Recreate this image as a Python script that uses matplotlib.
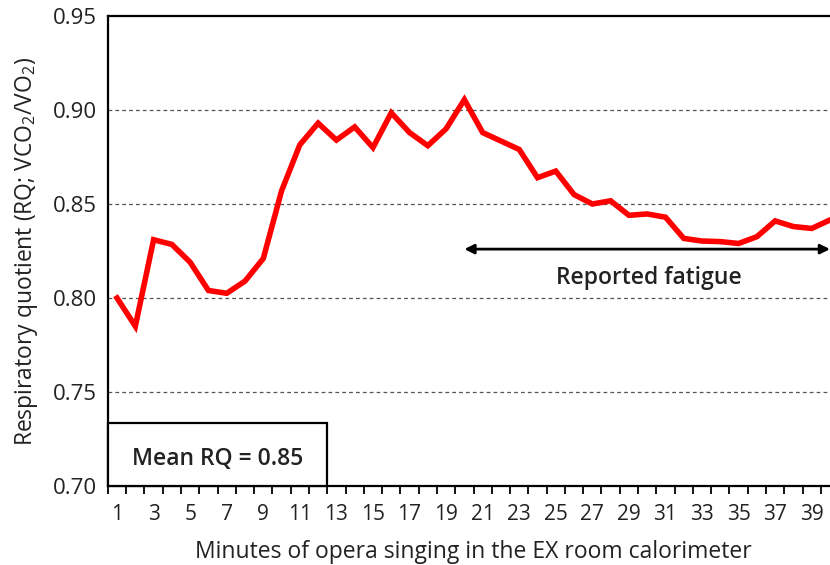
import matplotlib
matplotlib.use('Agg')
import matplotlib.pyplot as plt
from matplotlib.patches import Rectangle

plt.rcParams['font.family'] = ['Open Sans', 'DejaVu Sans']
plt.rcParams['mathtext.default'] = 'regular'

# RQ per minute of singing
minutes = list(range(1, 41))
rq = [0.800, 0.785, 0.831, 0.8285, 0.819, 0.804, 0.8025, 0.809, 0.821, 0.857,
      0.8815, 0.893, 0.884, 0.891, 0.880, 0.8985, 0.888, 0.881, 0.890, 0.9055,
      0.888, 0.8835, 0.879, 0.864, 0.8675, 0.855, 0.850, 0.8517, 0.844, 0.8447,
      0.843, 0.8317, 0.8303, 0.830, 0.829, 0.8326, 0.841, 0.838, 0.837, 0.8415]
y_ticks = [0.70, 0.75, 0.80, 0.85, 0.90, 0.95]
x_ticklabels = [str(m) for m in range(1, 41, 2)]
fatigue_start, fatigue_end = 20, 40
mean_rq = 0.85

fig = plt.figure(figsize=(8.3, 5.65), dpi=100)
ax = fig.add_axes([0.130, 0.1398, 0.881, 0.8319])

ax.plot(minutes, rq, color='#ff0000', lw=4.0, solid_joinstyle='miter', zorder=3)

ax.set_ylim(0.70, 0.95)
ax.set_xlim(0.5, 40.5)
ax.set_yticks(y_ticks)
ax.set_yticklabels(['%.2f' % v for v in y_ticks])
for v in y_ticks[1:-1]:
    ax.axhline(v, color='#555555', lw=0.9, ls=(0, (3, 2.5)), zorder=1)

# category style x axis: labels on odd minutes, ticks between categories
ax.set_xticks(range(1, 41, 2))
ax.set_xticklabels(x_ticklabels)
ax.set_xticks([m + 0.5 for m in range(0, 41)], minor=True)
ax.tick_params(axis='x', which='major', length=0, labelsize=15, pad=13, colors='#222222')
ax.tick_params(axis='x', which='minor', length=6, width=1.3, direction='out', color='black')
ax.tick_params(axis='y', length=0, labelsize=16, pad=8, colors='#222222')

for s in ['left', 'top', 'bottom']:
    ax.spines[s].set_linewidth(1.6)
    ax.spines[s].set_color('black')
ax.spines['right'].set_visible(False)

ax.set_xlabel('Minutes of opera singing in the EX room calorimeter', fontsize=16.5,
              color='#222222', labelpad=11)
ax.set_ylabel('Respiratory quotient (RQ; VCO$_2$/VO$_2$)', fontsize=16.5,
              color='#222222', labelpad=9)

# reported fatigue arrow
ax.annotate('', xy=(fatigue_end, 0.826), xytext=(fatigue_start, 0.826),
            arrowprops=dict(arrowstyle='<|-|>', color='black', lw=2,
                            mutation_scale=14, shrinkA=0, shrinkB=0))
ax.text((fatigue_start + fatigue_end) / 2 + 0.1, 0.8105, 'Reported fatigue',
        ha='center', va='center', fontsize=16.5, fontweight='semibold', color='#222222')

# mean box
ax.add_patch(Rectangle((0.5, 0.70), 12.0, 0.0335, fill=True, facecolor='white',
                       edgecolor='black', lw=1.6, zorder=4, clip_on=False))
ax.text(6.5, 0.7145, 'Mean RQ = %.2f' % mean_rq, ha='center', va='center',
        fontsize=16.5, fontweight='semibold', color='#222222', zorder=5)

plt.savefig('out.png', dpi=100)
